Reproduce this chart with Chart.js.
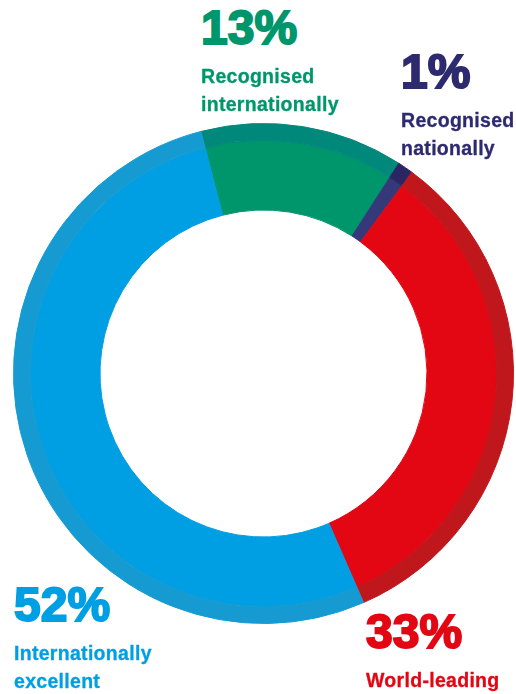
<!DOCTYPE html>
<html>
<head>
<meta charset="utf-8">
<script src="https://cdn.jsdelivr.net/npm/chart.js@4.4.0/dist/chart.umd.min.js"></script>
<style>
  html, body { margin: 0; padding: 0; background: #fff; }
  body { width: 516px; height: 694px; position: relative; overflow: hidden; }
  #wrap { position: absolute; left: 13px; top: 123px; width: 501px; height: 501px; }
  .lbl { position: absolute; font-family: "Liberation Sans", Arial, sans-serif; font-weight: bold; white-space: nowrap; }
  .pct { font-size: 48px; line-height: 48px; -webkit-text-stroke: 2px currentColor; }
  .name { font-size: 19.5px; line-height: 29px; letter-spacing: 0.3px; -webkit-text-stroke: 0.3px currentColor; }
</style>
</head>
<body>
<div id="wrap"><canvas id="c"></canvas></div>
<div id="labels"></div>
<script>
  // values, clockwise from the green slice
  const categories = ['Recognised internationally', 'Recognised nationally', 'World-leading', 'Internationally excellent'];
  const values = [13, 1, 33, 52];
  const labelLines = [
    ['Recognised', 'internationally'],
    ['Recognised', 'nationally'],
    ['World-leading'],
    ['Internationally', 'excellent']
  ];
  const mainColors = ['#00966c', '#35397a', '#e30613', '#009fe3'];
  const rimColors = ['#00887a', '#2b2563', '#c0171c', '#159bd2'];
  const textColors = ['#00966c', '#2d2a6f', '#e30613', '#009fe3'];

  // where each label block sits (left, baseline of the percentage)
  const labelPos = [[200, 45], [400, 89], [365, 649], [13, 622]];

  new Chart(document.getElementById('c'), {
    type: 'doughnut',
    data: {
      labels: categories,
      datasets: [
        { data: values, backgroundColor: rimColors, borderColor: rimColors, borderWidth: 1, weight: 17 },
        { data: values, backgroundColor: mainColors, borderColor: mainColors, borderWidth: 1, weight: 70 }
      ]
    },
    options: {
      responsive: true,
      maintainAspectRatio: false,
      animation: false,
      events: [],
      rotation: -14.5,
      cutout: 163.5,
      layout: { padding: 0 },
      plugins: { legend: { display: false }, tooltip: { enabled: false } }
    }
  });

  const box = document.getElementById('labels');
  values.forEach((v, i) => {
    const [x, base] = labelPos[i];
    const p = document.createElement('div');
    p.className = 'lbl pct';
    p.style.color = textColors[i];
    p.style.left = (x + 1) + 'px';
    p.style.top = (base - 40.6) + 'px';
    p.textContent = v + '%';
    box.appendChild(p);
    labelLines[i].forEach((line, j) => {
      const d = document.createElement('div');
      d.className = 'lbl name';
      d.style.color = textColors[i];
      d.style.left = (x + 1) + 'px';
      d.style.top = (base + 38 + j * 28 - 21) + 'px';
      d.textContent = line;
      box.appendChild(d);
    });
  });
</script>
</body>
</html>
